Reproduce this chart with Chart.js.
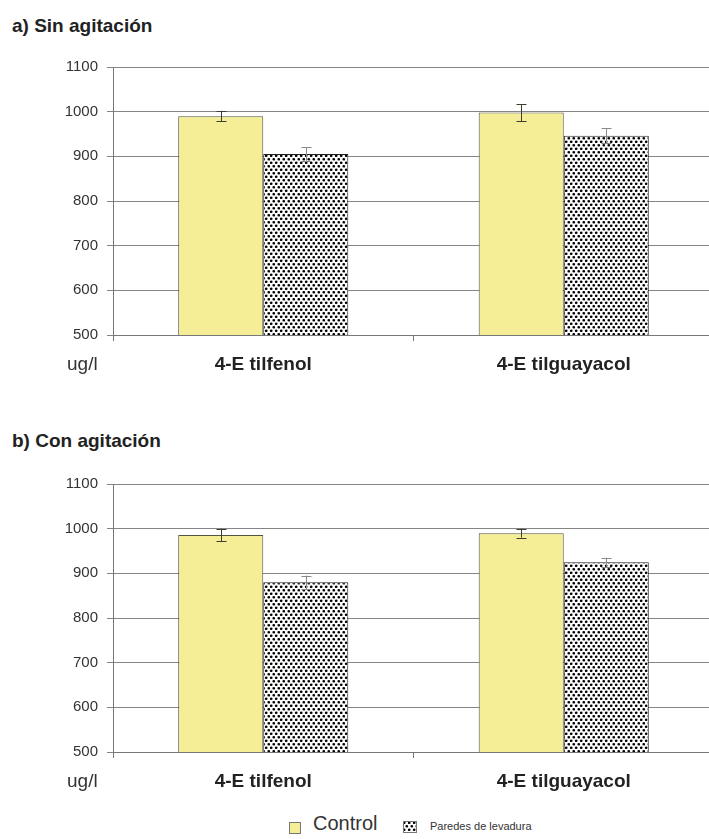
<!DOCTYPE html>
<html lang="es">
<head>
  <meta charset="UTF-8">
  <title>Sin / Con agitación</title>
  <script src="https://cdn.jsdelivr.net/npm/chart.js"></script>
  <style>
    html, body {
      margin: 0;
      padding: 0;
      width: 709px;
      height: 839px;
      overflow: hidden;
      background: #fff;
      font-family: Arial, "Liberation Sans", sans-serif;
      position: relative;
    }
    .title {
      position: absolute;
      left: 12px;
      font-size: 19px;
      font-weight: bold;
      line-height: 1;
      color: #222;
      white-space: nowrap;
    }
    .unit {
      position: absolute;
      left: 67px;
      font-size: 19px;
      line-height: 1;
      color: #333;
    }
    canvas.chart {
      position: absolute;
      left: 0;
    }
    .legend-box {
      position: absolute;
    }
    .legend-text {
      position: absolute;
      line-height: 1;
      color: #333;
      white-space: nowrap;
    }
  </style>
</head>
<body>
  <div class="title" style="top:16px">a) Sin agitación</div>
  <canvas id="chartA" class="chart" width="714" height="331" style="top:49px"></canvas>
  <div class="unit" style="top:354px">ug/l</div>

  <div class="title" style="top:431px">b) Con agitación</div>
  <canvas id="chartB" class="chart" width="714" height="331" style="top:466px"></canvas>
  <div class="unit" style="top:771px">ug/l</div>

  <!-- legend -->
  <div class="legend-box" style="left:289px;top:822px;width:10px;height:10px;background:#f6ee97;border:1px solid #777"></div>
  <div class="legend-text" style="left:313px;top:813px;font-size:20px">Control</div>
  <canvas id="swatch" class="legend-box" width="14" height="12" style="left:403px;top:821px"></canvas>
  <div class="legend-text" style="left:430px;top:821px;font-size:11px">Paredes de levadura</div>

  <script>
    // data (ug/l)
    const categories = ["4-E tilfenol", "4-E tilguayacol"];

    // a) sin agitacion
    const controlA = [990, 998];
    const controlAErr = [12, 19];
    const paredesA = [905, 946];
    const paredesAErr = [15, 17];

    // b) con agitacion
    const controlB = [986, 990];
    const controlBErr = [14, 10];
    const paredesB = [880, 925];
    const paredesBErr = [15, 10];

    const yMin = 500, yMax = 1100, yStep = 100;

    // dotted fill for "Paredes de levadura"
    function makeDots() {
      const c = document.createElement("canvas");
      c.width = 5;
      c.height = 7;
      const g = c.getContext("2d");
      g.fillStyle = "#fff";
      g.fillRect(0, 0, 5, 7);
      g.fillStyle = "#000";
      [[1.25, 1.75], [3.75, 5.25], [6.25, 1.75], [-1.25, 5.25],
       [1.25, 8.75], [3.75, -1.75]].forEach(p => {
        g.beginPath();
        g.arc(p[0], p[1], 1.35, 0, Math.PI * 2);
        g.fill();
      });
      return g.createPattern(c, "repeat");
    }

    // error bars drawn from each dataset's "errors" array
    const errorBars = {
      id: "errorBars",
      afterDatasetsDraw(chart) {
        const ctx = chart.ctx;
        const y = chart.scales.y;
        chart.data.datasets.forEach((ds, i) => {
          if (!ds.errors) return;
          const meta = chart.getDatasetMeta(i);
          meta.data.forEach((bar, j) => {
            const v = ds.data[j], e = ds.errors[j];
            const top = y.getPixelForValue(v + e);
            const bot = y.getPixelForValue(v - e);
            const x = Math.round(bar.x) + 0.5;
            ctx.save();
            ctx.strokeStyle = ds.errorColor;
            ctx.lineWidth = 1;
            ctx.beginPath();
            ctx.moveTo(x, top);
            ctx.lineTo(x, bot);
            ctx.moveTo(x - 5, Math.round(top) + 0.5);
            ctx.lineTo(x + 5, Math.round(top) + 0.5);
            ctx.moveTo(x - 5, Math.round(bot) + 0.5);
            ctx.lineTo(x + 5, Math.round(bot) + 0.5);
            ctx.stroke();
            ctx.restore();
          });
        });
      }
    };

    function renderChart(id, control, controlErr, paredes, paredesErr) {
      const ctx = document.getElementById(id).getContext("2d");
      new Chart(ctx, {
        type: "bar",
        data: {
          labels: categories,
          datasets: [
            {
              label: "Control",
              data: control,
              errors: controlErr,
              errorColor: "#3d3d30",
              backgroundColor: "#f6ee97",
              borderColor: "#55553f",
              borderWidth: 1
            },
            {
              label: "Paredes de levadura",
              data: paredes,
              errors: paredesErr,
              errorColor: "#8a8a8a",
              backgroundColor: makeDots(),
              borderColor: "#222",
              borderWidth: 1
            }
          ]
        },
        options: {
          responsive: false,
          animation: false,
          datasets: {
            bar: {
              barPercentage: 1,
              categoryPercentage: 0.566
            }
          },
          layout: { padding: { top: 10, right: 0, left: 0, bottom: 0 } },
          plugins: {
            legend: { display: false },
            tooltip: { enabled: false }
          },
          scales: {
            x: {
              afterFit(scale) { scale.height = 45; },
              border: { color: "#777", width: 1 },
              grid: {
                drawOnChartArea: false,
                drawTicks: true,
                tickLength: 6,
                color: "#777"
              },
              ticks: {
                color: "#222",
                padding: 12,
                font: { family: "Arial", size: 19, weight: "bold" }
              }
            },
            y: {
              min: yMin,
              max: yMax,
              afterFit(scale) { scale.width = 113; },
              border: { color: "#777", width: 1 },
              grid: {
                color: "#858585",
                lineWidth: 1,
                tickLength: 6
              },
              ticks: {
                stepSize: yStep,
                color: "#333",
                padding: 9,
                font: { family: "Arial", size: 15 },
                callback: v => String(v)
              }
            }
          }
        },
        plugins: [errorBars]
      });
    }

    renderChart("chartA", controlA, controlAErr, paredesA, paredesAErr);
    renderChart("chartB", controlB, controlBErr, paredesB, paredesBErr);

    // legend swatch with the same dots
    const sw = document.getElementById("swatch").getContext("2d");
    sw.fillStyle = makeDots();
    sw.fillRect(0, 0, 14, 12);
    sw.strokeStyle = "#777";
    sw.strokeRect(0.5, 0.5, 13, 11);
  </script>
</body>
</html>
